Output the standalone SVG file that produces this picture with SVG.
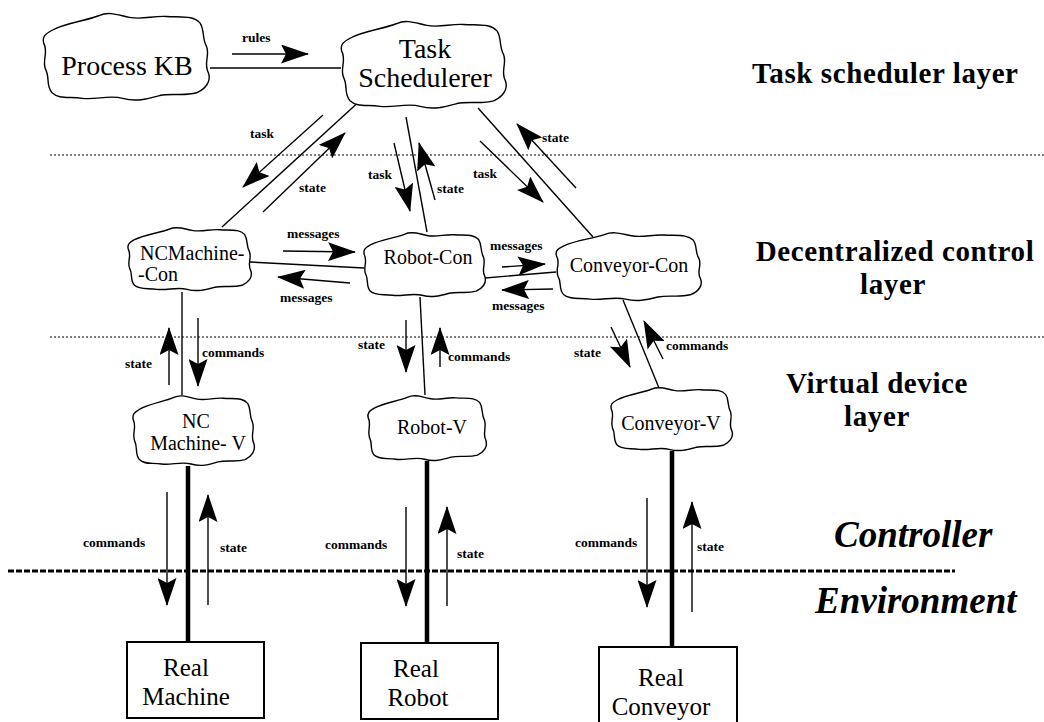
<svg xmlns="http://www.w3.org/2000/svg" xmlns:xlink="http://www.w3.org/1999/xlink" width="1044" height="722" viewBox="0 0 1044 722">
<style>
.cloud{fill:#fff;stroke:#000;stroke-width:1.4}
.box{fill:#fff;stroke:#000;stroke-width:2}
.ln{stroke:#000;stroke-width:1.4;fill:none}
.thick{stroke:#000;stroke-width:4.5;fill:none}
.arr{stroke:#000;stroke-width:1.4;fill:none;marker-end:url(#ah)}
.node{font-family:"Liberation Serif","Times New Roman",serif;font-size:20px;fill:#000}
.big{font-family:"Liberation Serif","Times New Roman",serif;font-size:28px;fill:#000}
.real{font-family:"Liberation Serif","Times New Roman",serif;font-size:25px;fill:#000}
.lbl{font-family:"Liberation Serif","Times New Roman",serif;font-size:13.5px;font-weight:bold;fill:#000}
.layer{font-family:"Liberation Serif","Times New Roman",serif;font-size:29px;font-weight:bold;letter-spacing:0.6px;fill:#000}
.env{font-family:"Liberation Serif","Times New Roman",serif;font-size:37px;font-weight:bold;font-style:italic;fill:#000}
.sep{stroke:#000;stroke-width:1;stroke-dasharray:2 2;fill:none}
.sep2{stroke:#000;stroke-width:3;stroke-dasharray:6 2;fill:none}
</style>
<defs>
<marker id="ah" viewBox="0 0 28 19" refX="27" refY="9.5" markerWidth="28" markerHeight="19" markerUnits="userSpaceOnUse" orient="auto">
<path d="M0,0 L28,9.5 L0,19 L5,9.5 Z" fill="#000"/>
</marker>
<path id="cl" vector-effect="non-scaling-stroke" d="M6,22 C14,14 26,12 34,6 C40,1 46,6 52,8 C60,11 66,6 74,7 C84,8 90,6 94,14 C97,22 95,30 98,40 C100,50 96,58 99,68 C101,78 97,86 92,90 C84,94 78,90 70,93 C62,97 56,100 48,96 C40,92 32,98 24,96 C16,94 10,97 6,90 C2,82 5,74 2,64 C0,54 4,46 1,36 C0,29 2,26 6,22 Z"/>
</defs>
<rect width="1044" height="722" fill="#fff"/>

<g id="separators">
<line class="sep" x1="50" y1="155" x2="1044" y2="155"/>
<line class="sep" x1="50" y1="337" x2="1044" y2="337"/>
<line class="sep2" x1="8" y1="571" x2="955" y2="571"/>
</g>

<g id="connectors">
<line class="ln" x1="210" y1="68" x2="341" y2="68"/>
<line class="ln" x1="363" y1="98" x2="222" y2="227"/>
<line class="ln" x1="406" y1="117" x2="427" y2="232"/>
<line class="ln" x1="478" y1="108" x2="593" y2="237"/>
<line class="ln" x1="250" y1="262" x2="364" y2="268"/>
<line class="ln" x1="485" y1="278" x2="556" y2="272"/>
<line class="ln" x1="182" y1="292" x2="182" y2="395"/>
<line class="ln" x1="420" y1="297" x2="425" y2="395"/>
<line class="ln" x1="623" y1="300" x2="659" y2="388"/>
<line class="thick" x1="188" y1="466" x2="188" y2="642"/>
<line class="thick" x1="427" y1="461" x2="427" y2="643"/>
<line class="thick" x1="672" y1="451" x2="672" y2="647"/>

<line class="arr" x1="232" y1="54" x2="308" y2="54"/>
<line class="arr" x1="323" y1="115" x2="243" y2="187"/>
<line class="arr" x1="263" y1="212" x2="345" y2="133"/>
<line class="arr" x1="394" y1="143" x2="410" y2="211"/>
<line class="arr" x1="435" y1="200" x2="419" y2="143"/>
<line class="arr" x1="480" y1="141" x2="543" y2="202"/>
<line class="arr" x1="576" y1="188" x2="517" y2="124"/>
<line class="arr" x1="283" y1="251" x2="355" y2="252"/>
<line class="arr" x1="350" y1="283" x2="278" y2="277"/>
<line class="arr" x1="502" y1="267" x2="545" y2="264"/>
<line class="arr" x1="553" y1="289" x2="502" y2="290"/>
<line class="arr" x1="169" y1="385" x2="169" y2="328"/>
<line class="arr" x1="198" y1="318" x2="198" y2="386"/>
<line class="arr" x1="406" y1="320" x2="406" y2="372"/>
<line class="arr" x1="440" y1="367" x2="440" y2="328"/>
<line class="arr" x1="611" y1="327" x2="630" y2="367"/>
<line class="arr" x1="663" y1="359" x2="644" y2="321"/>
<line class="arr" x1="167" y1="492" x2="167" y2="605"/>
<line class="arr" x1="208" y1="605" x2="208" y2="495"/>
<line class="arr" x1="406" y1="507" x2="406" y2="606"/>
<line class="arr" x1="447" y1="606" x2="447" y2="507"/>
<line class="arr" x1="647" y1="498" x2="647" y2="607"/>
<line class="arr" x1="692" y1="612" x2="692" y2="502"/>

<text class="lbl" x="242" y="42">rules</text>
<text class="lbl" x="250" y="138">task</text>
<text class="lbl" x="299" y="192">state</text>
<text class="lbl" x="368" y="179">task</text>
<text class="lbl" x="437" y="193">state</text>
<text class="lbl" x="473" y="178">task</text>
<text class="lbl" x="542" y="142">state</text>
<text class="lbl" x="287" y="238">messages</text>
<text class="lbl" x="280" y="302">messages</text>
<text class="lbl" x="490" y="250">messages</text>
<text class="lbl" x="492" y="310">messages</text>
<text class="lbl" x="125" y="368">state</text>
<text class="lbl" x="202" y="357">commands</text>
<text class="lbl" x="358" y="349">state</text>
<text class="lbl" x="448" y="361">commands</text>
<text class="lbl" x="574" y="357">state</text>
<text class="lbl" x="666" y="350">commands</text>
<text class="lbl" x="83" y="547">commands</text>
<text class="lbl" x="220" y="552">state</text>
<text class="lbl" x="325" y="549">commands</text>
<text class="lbl" x="457" y="558">state</text>
<text class="lbl" x="575" y="547">commands</text>
<text class="lbl" x="697" y="551">state</text>
</g>

<g id="process-kb">
<use xlink:href="#cl" class="cloud" transform="translate(42,10) scale(1.68,0.92)"/>
<text class="big" x="127" y="75" text-anchor="middle" font-size="29">Process KB</text>
</g>
<g id="task-schedulerer">
<use xlink:href="#cl" class="cloud" transform="translate(340,18) scale(1.67,0.92)"/>
<text class="big" x="425" y="58" text-anchor="middle">Task</text>
<text class="big" x="425" y="87" text-anchor="middle">Schedulerer</text>
</g>
<g id="ncmachine-con">
<use xlink:href="#cl" class="cloud" transform="translate(127,225) scale(1.25,0.67)"/>
<text class="node" x="140" y="260">NCMachine-</text>
<text class="node" x="138" y="281">-Con</text>
</g>
<g id="robot-con">
<use xlink:href="#cl" class="cloud" transform="translate(363,230) scale(1.23,0.68)"/>
<text class="node" x="428" y="264" text-anchor="middle">Robot-Con</text>
</g>
<g id="conveyor-con">
<use xlink:href="#cl" class="cloud" transform="translate(555,230) scale(1.47,0.72)"/>
<text class="node" x="629" y="272" text-anchor="middle">Conveyor-Con</text>
</g>
<g id="ncmachine-v">
<use xlink:href="#cl" class="cloud" transform="translate(132,393) scale(1.23,0.74)"/>
<text class="node" x="196" y="428" text-anchor="middle">NC</text>
<text class="node" x="198" y="450" text-anchor="middle">Machine- V</text>
</g>
<g id="robot-v">
<use xlink:href="#cl" class="cloud" transform="translate(367,393) scale(1.2,0.69)"/>
<text class="node" x="432" y="434" text-anchor="middle">Robot-V</text>
</g>
<g id="conveyor-v">
<use xlink:href="#cl" class="cloud" transform="translate(610,385) scale(1.23,0.67)"/>
<text class="node" x="671" y="430" text-anchor="middle">Conveyor-V</text>
</g>

<g id="real-machine">
<rect class="box" x="127" y="642" width="137" height="76"/>
<text class="real" x="186" y="676" text-anchor="middle">Real</text>
<text class="real" x="186" y="705" text-anchor="middle">Machine</text>
</g>
<g id="real-robot">
<rect class="box" x="361" y="643" width="137" height="76"/>
<text class="real" x="416" y="677" text-anchor="middle">Real</text>
<text class="real" x="418" y="706" text-anchor="middle">Robot</text>
</g>
<g id="real-conveyor">
<rect class="box" x="599" y="647" width="138" height="80"/>
<text class="real" x="661" y="686" text-anchor="middle">Real</text>
<text class="real" x="661" y="715" text-anchor="middle">Conveyor</text>
</g>

<g id="layer-labels">
<text class="layer" x="752" y="83" font-size="31">Task scheduler layer</text>
<text class="layer" x="895" y="261" text-anchor="middle">Decentralized control</text>
<text class="layer" x="893" y="294" text-anchor="middle">layer</text>
<text class="layer" x="877" y="393" text-anchor="middle">Virtual device</text>
<text class="layer" x="877" y="426" text-anchor="middle">layer</text>
<text class="env" x="834" y="547">Controller</text>
<text class="env" x="815" y="613">Environment</text>
</g>
</svg>
